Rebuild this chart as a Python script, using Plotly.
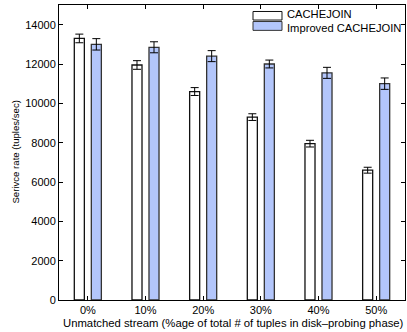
import plotly.graph_objects as go

# Service rate of the two join algorithms against the share of unmatched stream tuples
categories = ["0%", "10%", "20%", "30%", "40%", "50%"]
cachejoin = [13300, 11950, 10600, 9300, 7950, 6600]
cachejoin_err = [220, 220, 200, 170, 170, 150]
improved = [13000, 12850, 12400, 12000, 11550, 11000]
improved_err = [290, 280, 280, 200, 280, 290]

series_names = ["CACHEJOIN", "Improved CACHEJOIN"]
y_ticks = [0, 2000, 4000, 6000, 8000, 10000, 12000, 14000]
x_title = "Unmatched stream (%age of total # of tuples in disk\u2013probing phase)"
y_title = "Serivce rate (tuples/sec)"

FONT = "Liberation Sans, Arial, Helvetica, sans-serif"
WHITE = "#ffffff"
BLUE = "#b3c6fb"

fig = go.Figure()
fig.add_trace(go.Bar(
    x=categories, y=cachejoin, name=series_names[0],
    marker=dict(color=WHITE, line=dict(color="#111111", width=1.3)),
    error_y=dict(type="data", array=cachejoin_err, color="#000000",
                 thickness=1, width=4),
))
fig.add_trace(go.Bar(
    x=categories, y=improved, name=series_names[1],
    marker=dict(color=BLUE, line=dict(color="#333333", width=1.3)),
    error_y=dict(type="data", array=improved_err, color="#000000",
                 thickness=1, width=4),
))

# Hand-drawn legend with wide swatches, placed in the upper-right corner
legend_rows = [(0.978, 0.949, WHITE, "#111111"), (0.944, 0.914, BLUE, "#333333")]
for rect, label in zip(legend_rows, series_names):
    y1, y0, fill, edge = rect
    fig.add_shape(type="rect", xref="paper", yref="paper",
                  x0=0.5607, x1=0.6445, y0=y0, y1=y1,
                  fillcolor=fill, line=dict(color=edge, width=1))
# Labels meet at the gap between the two swatches so their boxes do not overlap
split = 0.9465
fig.add_annotation(xref="paper", yref="paper", x=0.655, y=split,
                   text=series_names[0], showarrow=False, xanchor="left",
                   yanchor="bottom", borderpad=0,
                   font=dict(family=FONT, size=11.2, color="#000"))
fig.add_annotation(xref="paper", yref="paper", x=0.655, y=split,
                   text=series_names[1], showarrow=False, xanchor="left",
                   yanchor="top", borderpad=0,
                   font=dict(family=FONT, size=11.2, color="#000"))

# Axis titles
fig.add_annotation(xref="paper", yref="paper", x=0.0087, y=-0.054,
                   text=x_title, showarrow=False, xanchor="left",
                   yanchor="top", borderpad=0,
                   font=dict(family=FONT, size=11.3, color="#000"))
fig.add_annotation(xref="paper", yref="paper", x=-0.127, y=0.5,
                   text=y_title, showarrow=False, textangle=-90,
                   xanchor="center", yanchor="middle", borderpad=0,
                   font=dict(family=FONT, size=9.6, color="#000"))

axis_common = dict(
    showline=True, linecolor="#000000", linewidth=1, mirror="ticks",
    ticks="inside", ticklen=4, tickwidth=1, tickcolor="#000000",
    showgrid=False, zeroline=False,
    tickfont=dict(family=FONT, size=11, color="#000000"),
)

fig.update_layout(
    width=407, height=332,
    margin=dict(l=59, r=2, t=4.5, b=31.5),
    paper_bgcolor="#ffffff", plot_bgcolor="#ffffff",
    barmode="group", bargap=0.41, bargroupgap=0.41,
    showlegend=False,
    font=dict(family=FONT, size=11, color="#000000"),
    xaxis=dict(**axis_common, range=[-0.5, 5.5], ticklabelstandoff=0),
    yaxis=dict(**axis_common, range=[0, 15000], tickvals=y_ticks, tickformat="d"),
)

fig.write_html("out.html")
